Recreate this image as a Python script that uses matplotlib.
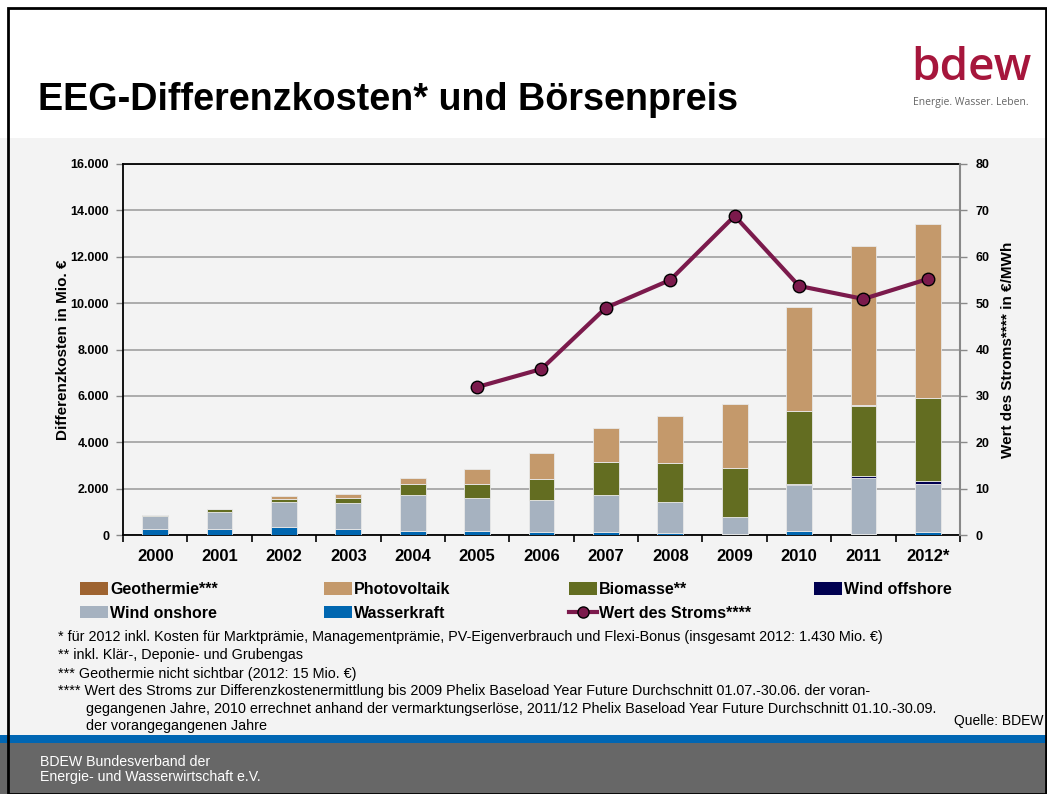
import numpy as np
import matplotlib.pyplot as plt
from matplotlib.patches import Rectangle
from matplotlib.lines import Line2D

# data (Mio. EUR / EUR per MWh)
jahre = ["2000", "2001", "2002", "2003", "2004", "2005", "2006",
         "2007", "2008", "2009", "2010", "2011", "2012*"]
wasserkraft = [270, 270, 330, 260, 190, 190, 145, 130, 90, 45, 185, 55, 145]
wind_onshore = [550, 735, 1080, 1135, 1550, 1405, 1380, 1580, 1345, 745, 1985, 2390, 2055]
wind_offshore = [0, 0, 0, 0, 0, 0, 0, 0, 0, 5, 10, 100, 140]
biomasse = [40, 100, 155, 215, 445, 620, 905, 1450, 1685, 2110, 3150, 3030, 3570]
geothermie = [0, 0, 0, 0, 0, 0, 0, 1, 2, 4, 6, 10, 15]
photovoltaik = [20, 15, 100, 160, 285, 645, 1105, 1470, 2010, 2735, 4510, 6890, 7500]
strom_jahre = [5, 6, 7, 8, 9, 10, 11, 12]
wert_strom = [31.9, 35.8, 49.0, 55.0, 68.8, 53.7, 50.9, 55.2]

c_wasser = "#0066b0"
c_onshore = "#a6b2c0"
c_offshore = "#000050"
c_bio = "#636d21"
c_geo = "#9e6330"
c_pv = "#c4996b"
c_line = "#7b1a4c"

plt.rcParams['font.family'] = ['Liberation Sans', 'DejaVu Sans']

fig = plt.figure(figsize=(10.47, 7.94), dpi=100)
W, H = 1047, 794

# background pieces (pixel coords -> figure fraction)
def box(x0, y0, x1, y1, color):
    fig.patches.append(Rectangle((x0 / W, 1 - y1 / H), (x1 - x0) / W, (y1 - y0) / H,
                                 transform=fig.transFigure, facecolor=color,
                                 edgecolor="none", zorder=-2))

box(0, 138, W, 735, "#f3f3f3")
box(0, 735, W, 743, "#0066b3")
box(0, 743, W, H, "#676767")
fig.patches.append(Rectangle((8 / W, 0), (W - 9) / W, 1 - 8 / H, transform=fig.transFigure,
                             facecolor="none", edgecolor="black", lw=2, zorder=5))

fig.text(38 / W, 1 - 100 / H, "EEG-Differenzkosten* und Börsenpreis", fontsize=27.2,
         fontweight="bold", va="center", ha="left")
fig.text(971 / W, 1 - 68 / H, "bdew", fontsize=33, color="#a6163c", ha="center",
         va="center", family=["Open Sans", "DejaVu Sans"], fontweight="semibold")
fig.text(971 / W, 1 - 103 / H, "Energie. Wasser. Leben.", fontsize=7.5, color="#666666",
         ha="center", va="center", family=["Open Sans", "DejaVu Sans"])

ax = fig.add_axes([123 / W, 1 - 535 / H, (960 - 123) / W, (535 - 164) / H])
ax.set_facecolor("#f3f3f3")
x = np.arange(len(jahre))
bw = 0.4
bottom = np.zeros(len(jahre))
for vals, col in [(wasserkraft, c_wasser), (wind_onshore, c_onshore), (wind_offshore, c_offshore),
                  (biomasse, c_bio), (geothermie, c_geo), (photovoltaik, c_pv)]:
    ax.bar(x, vals, bw, bottom=bottom, color=col, edgecolor="#e8e8e8", linewidth=0.6, zorder=3)
    bottom += np.array(vals)

ax.set_xlim(-0.5, len(jahre) - 0.5)
ax.set_ylim(0, 16000)
ax.set_yticks(np.arange(0, 16001, 2000))
ax.set_yticklabels([f"{v:,}".replace(",", ".") for v in range(0, 16001, 2000)],
                   fontsize=9, fontweight="bold")
ax.yaxis.grid(True, color="#a6a6a6", lw=1.3, zorder=1)
ax.set_xticks(x)
ax.set_xticklabels(jahre, fontsize=12, fontweight="bold")
ax.tick_params(axis="x", length=0, pad=10)
ax.set_xticks(np.arange(-0.5, len(jahre), 1), minor=True)
ax.tick_params(axis="x", which="minor", length=5, width=1.2, direction="out")
ax.tick_params(axis="y", length=5, width=1, color="#888888", pad=5)
for s in ["left", "top", "bottom"]:
    ax.spines[s].set_linewidth(1.3)
ax.spines["right"].set_visible(False)
ax.set_ylabel("Differenzkosten in Mio. €", fontsize=11, fontweight="bold", labelpad=0)

ax2 = ax.twinx()
ax2.set_ylim(0, 80)
ax2.set_yticks(np.arange(0, 81, 10))
ax2.set_yticklabels([str(v) for v in range(0, 81, 10)], fontsize=9, fontweight="bold")
ax2.tick_params(axis="y", length=5, width=1, color="#888888", pad=6)
for s in ["left", "top", "bottom"]:
    ax2.spines[s].set_visible(False)
ax2.spines["right"].set_color("#888888")
ax2.spines["right"].set_linewidth(1.5)
ax2.plot(strom_jahre, wert_strom, color=c_line, lw=3, marker="o", markersize=9,
         markerfacecolor=c_line, markeredgecolor="black", markeredgewidth=1, zorder=4)
ax2.set_ylabel("Wert des Stroms**** in €/MWh", fontsize=11, fontweight="bold", labelpad=8)

# legend, one column at a time
def patch(c):
    return Rectangle((0, 0), 1, 1, facecolor=c, edgecolor="none")

strom_h = Line2D([], [], color=c_line, lw=3, marker="o", markersize=8,
                 markerfacecolor=c_line, markeredgecolor="black")
spalten = [
    (80, [patch(c_geo), patch(c_onshore)], ["Geothermie***", "Wind onshore"]),
    (324, [patch(c_pv), patch(c_wasser)], ["Photovoltaik", "Wasserkraft"]),
    (569, [patch(c_bio), strom_h], ["Biomasse**", "Wert des Stroms****"]),
    (814, [patch(c_offshore)], ["Wind offshore"]),
]
for xpos, hs, ls in spalten:
    fig.legend(hs, ls, loc="upper left", bbox_to_anchor=(xpos / W, 1 - 582 / H),
               frameon=False, handlelength=1.75, handleheight=0.8, handletextpad=0.15,
               labelspacing=0.55, borderaxespad=0, borderpad=0,
               prop={"weight": "bold", "size": 11.5})

fuss = [
    "* für 2012 inkl. Kosten für Marktprämie, Managementprämie, PV-Eigenverbrauch und Flexi-Bonus (insgesamt 2012: 1.430 Mio. €)",
    "** inkl. Klär-, Deponie- und Grubengas",
    "*** Geothermie nicht sichtbar (2012: 15 Mio. €)",
    "**** Wert des Stroms zur Differenzkostenermittlung bis 2009 Phelix Baseload Year Future Durchschnitt 01.07.-30.06. der voran-",
    "       gegangenen Jahre, 2010 errechnet anhand der vermarktungserlöse, 2011/12 Phelix Baseload Year Future Durchschnitt 01.10.-30.09.",
    "       der vorangegangenen Jahre",
]
fuss_y = [637, 655, 674, 691, 709, 726]
for t, yy in zip(fuss, fuss_y):
    fig.text(58 / W, 1 - yy / H, t, fontsize=10.4, va="center", ha="left")
fig.text(1043 / W, 1 - 721 / H, "Quelle: BDEW", fontsize=10, va="center", ha="right")

fig.text(40 / W, 1 - 762 / H, "BDEW Bundesverband der", fontsize=10.2,
         color="white", va="center")
fig.text(40 / W, 1 - 777 / H, "Energie- und Wasserwirtschaft e.V.", fontsize=10.2,
         color="white", va="center")

fig.savefig("out.png", dpi=100)
